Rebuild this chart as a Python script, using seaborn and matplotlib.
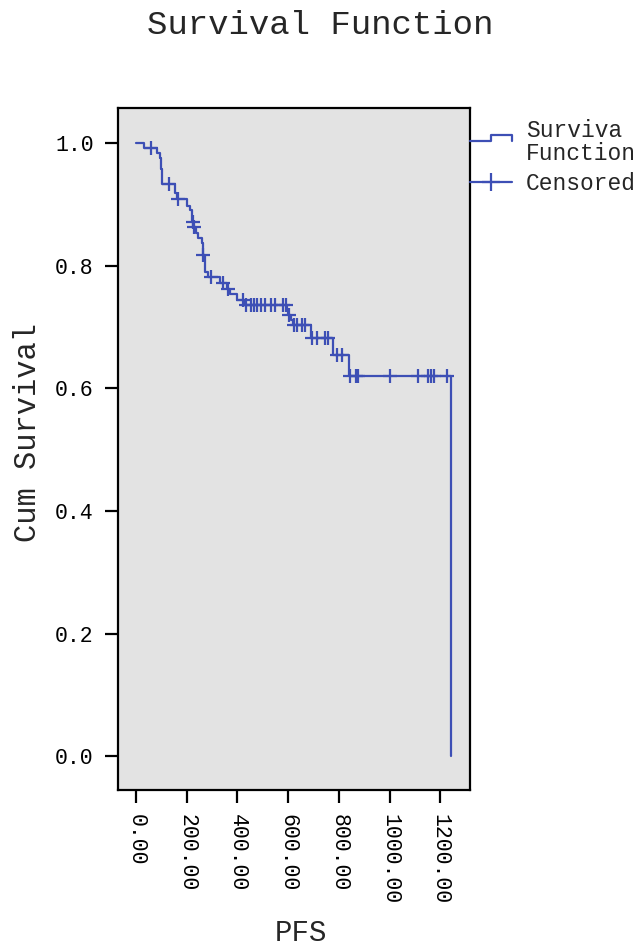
import numpy as np
import pandas as pd
import matplotlib
matplotlib.use("Agg")
import matplotlib.pyplot as plt
import seaborn as sns
from matplotlib.lines import Line2D
from matplotlib.legend_handler import HandlerBase

# ---- data ----
step_times = [0, 32, 83, 95, 99, 104, 154, 160, 201, 214, 219, 226, 237, 244,
              260, 264, 272, 285, 331, 357, 370, 400, 424, 595, 599, 610, 620,
              690, 777, 840, 1241]
step_surv = [1.000, 0.992, 0.983, 0.975, 0.958, 0.933, 0.918, 0.908, 0.898, 0.890,
             0.871, 0.863, 0.854, 0.845, 0.837, 0.817, 0.790, 0.781, 0.772, 0.762,
             0.754, 0.744, 0.736, 0.728, 0.720, 0.711, 0.703, 0.682, 0.654, 0.620,
             0.000]
censor_times = [58, 130, 166, 223, 229, 266, 295, 343, 362, 422,
                432, 452, 465, 477, 492, 509, 531, 550, 580, 590,
                605, 622, 633, 655, 668, 694, 714, 746, 757, 793, 813,
                845, 866, 875, 1000, 1110, 1153, 1162, 1175, 1228]
x_ticks = [0, 200, 400, 600, 800, 1000, 1200]
y_ticks = [0.0, 0.2, 0.4, 0.6, 0.8, 1.0]
title = "Survival Function"
x_label = "PFS"
y_label = "Cum Survival"
legend_labels = ["Surviva\nFunction", "Censored"]

# ---- build tables ----
km = pd.DataFrame({"time": step_times, "surv": step_surv})
idx = np.searchsorted(np.array(step_times), np.array(censor_times), side="right") - 1
cens = pd.DataFrame({"time": censor_times, "surv": np.array(step_surv)[idx]})

sns.set_style("ticks")
plt.rcParams["font.family"] = ["Liberation Mono", "DejaVu Sans Mono"]

color = "#3D4FB5"
fig = plt.figure(figsize=(6.4, 9.5), dpi=100)
ax = fig.add_axes([118 / 640, 1 - 790 / 950, 352 / 640, 682 / 950])
ax.set_facecolor("#E3E3E3")

sns.lineplot(data=km, x="time", y="surv", ax=ax, color=color, lw=1.6,
             drawstyle="steps-post", estimator=None, sort=False, legend=False)
sns.scatterplot(data=cens, x="time", y="surv", ax=ax, color=color, marker="+",
                s=95, linewidth=1.6, legend=False, zorder=3)

ax.set_xlim(-71, 1317)
ax.set_ylim(-0.055, 1.057)
ax.set_xticks(x_ticks)
ax.set_xticklabels([f"{v:.2f}" for v in x_ticks])
ax.set_yticks(y_ticks)
ax.set_yticklabels([f"{v:.1f}" for v in y_ticks])
ax.set_xlabel("")
ax.set_ylabel("")
ax.tick_params(axis="both", direction="out", length=9.5, width=1.6, colors="black",
               labelsize=15.5, pad=8)
ax.tick_params(axis="x", labelrotation=-90)
for sp in ax.spines.values():
    sp.set_visible(True)
    sp.set_color("black")
    sp.set_linewidth(1.6)

fig.text(0.5, 1 - 25 / 950, title, ha="center", va="center", fontsize=24.5)
fig.text(301 / 640, 1 - 933 / 950, x_label, ha="center", va="center", fontsize=21)
fig.text(28 / 640, 1 - 432 / 950, y_label, ha="center", va="center", rotation=90,
         fontsize=22)


class StepHandler(HandlerBase):
    def create_artists(self, legend, orig_handle, xdescent, ydescent, width, height,
                       fontsize, trans):
        x0, y0 = -xdescent, -ydescent
        xs = [x0, x0 + width * 0.5, x0 + width * 0.5, x0 + width, x0 + width]
        ys = [y0 + height * 0.6, y0 + height * 0.6, y0 + height * 1.0,
              y0 + height * 1.0, y0 + height * 0.6]
        ln = Line2D(xs, ys, color=color, lw=1.6)
        ln.set_transform(trans)
        return [ln]


h_step = Line2D([], [], color=color, lw=1.6)
h_cens = Line2D([], [], color=color, lw=1.6, marker="+", markersize=13, mew=1.6)
leg = fig.legend([h_step, h_cens], legend_labels, handler_map={h_step: StepHandler()},
                 loc="upper left", bbox_to_anchor=(470 / 640, 1 - 119 / 950),
                 frameon=False, fontsize=16.5, handlelength=1.85, handletextpad=0.6,
                 borderpad=0, borderaxespad=0, labelspacing=0.3, numpoints=1)
leg.get_texts()[0].set_linespacing(1.0)

fig.savefig("out.png", dpi=100)
